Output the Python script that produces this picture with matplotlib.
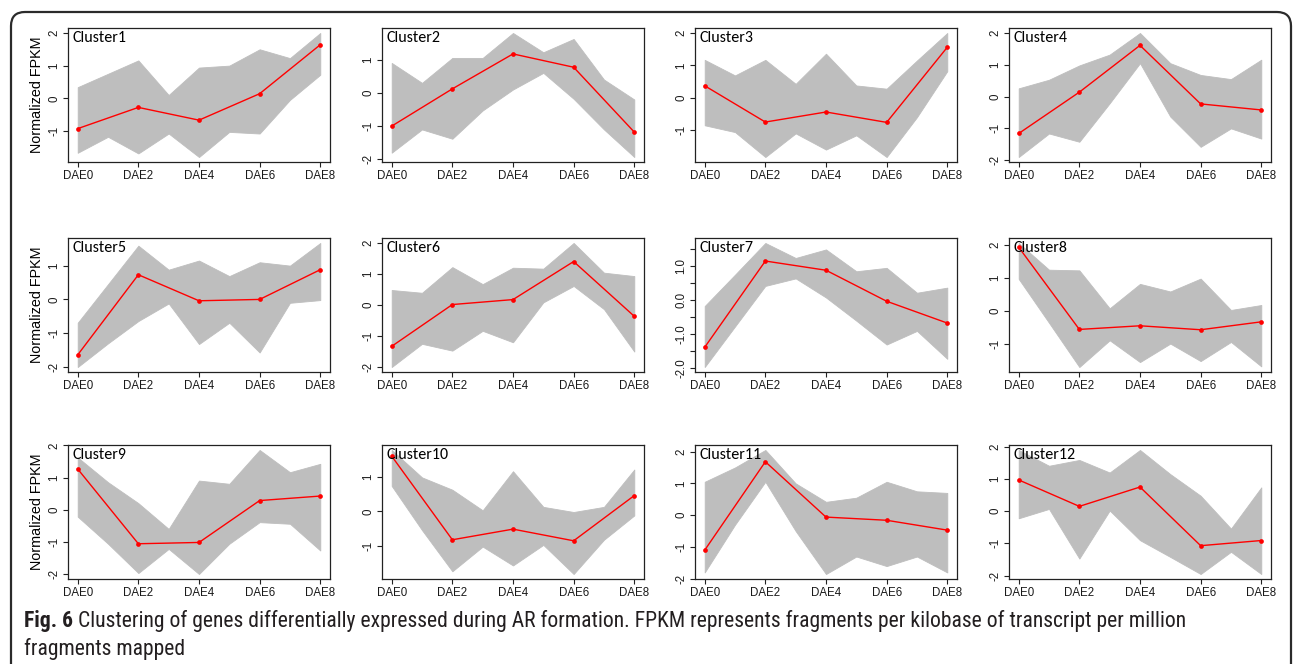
import matplotlib
matplotlib.use("Agg")
import matplotlib.pyplot as plt
from matplotlib import font_manager
from matplotlib.patches import FancyBboxPatch
from matplotlib.transforms import IdentityTransform
from matplotlib.ticker import MultipleLocator, FuncFormatter
import numpy as np

# ---------------- data ----------------
timepoints = ["DAE0", "DAE2", "DAE4", "DAE6", "DAE8"]
cluster_names = ["Cluster%d" % i for i in range(1, 13)]

# centroid (red) profiles
centroids = [
    [-0.93, -0.28, -0.67, 0.14, 1.64],
    [-1.00, 0.12, 1.17, 0.77, -1.18],
    [0.37, -0.75, -0.44, -0.76, 1.56],
    [-1.16, 0.14, 1.61, -0.23, -0.42],
    [-1.64, 0.73, -0.04, 0.00, 0.88],
    [-1.33, 0.02, 0.18, 1.41, -0.36],
    [-1.38, 1.15, 0.88, -0.03, -0.67],
    [1.92, -0.57, -0.46, -0.58, -0.34],
    [1.27, -1.05, -1.01, 0.29, 0.43],
    [1.61, -0.83, -0.52, -0.86, 0.46],
    [-1.10, 1.68, -0.06, -0.16, -0.47],
    [0.97, 0.15, 0.75, -1.07, -0.91],
]

# upper / lower edge of the gray gene band, read at DAE0, mid, DAE2, mid, ... DAE8
band_hi = [
    [0.34, 0.75, 1.16, 0.10, 0.94, 1.00, 1.50, 1.23, 2.00],
    [0.90, 0.30, 1.05, 1.05, 1.80, 1.22, 1.62, 0.40, -0.20],
    [1.17, 0.69, 1.17, 0.43, 1.36, 0.38, 0.28, 1.15, 2.00],
    [0.26, 0.53, 0.98, 1.32, 2.00, 1.05, 0.68, 0.55, 1.16],
    [-0.69, 0.45, 1.59, 0.88, 1.15, 0.69, 1.10, 1.00, 1.67],
    [0.49, 0.40, 1.23, 0.68, 1.21, 1.18, 2.01, 1.05, 0.94],
    [-0.17, 0.75, 1.68, 1.24, 1.49, 0.85, 0.95, 0.22, 0.37],
    [2.05, 1.24, 1.22, 0.07, 0.81, 0.58, 0.97, 0.02, 0.17],
    [1.63, 0.86, 0.21, -0.59, 0.91, 0.81, 1.86, 1.17, 1.43],
    [1.79, 0.99, 0.63, 0.03, 1.17, 0.13, -0.02, 0.13, 1.22],
    [1.05, 1.50, 2.05, 1.00, 0.42, 0.55, 1.05, 0.75, 0.70],
    [1.90, 1.41, 1.59, 1.20, 1.90, 1.15, 0.48, -0.54, 0.74],
]
band_lo = [
    [-1.67, -1.18, -1.69, -1.08, -1.80, -1.03, -1.08, -0.05, 0.72],
    [-1.80, -1.10, -1.38, -0.53, 0.10, 0.60, -0.18, -1.10, -1.93],
    [-0.85, -1.06, -1.83, -1.10, -1.60, -1.16, -1.83, -0.60, 0.82],
    [-1.90, -1.16, -1.42, -0.21, 1.05, -0.63, -1.58, -1.00, -1.32],
    [-2.00, -1.30, -0.64, -0.12, -1.32, -0.69, -1.57, -0.10, -0.02],
    [-2.00, -1.25, -1.47, -0.83, -1.20, 0.09, 0.62, -0.13, -1.50],
    [-1.96, -0.77, 0.42, 0.64, 0.08, -0.60, -1.30, -0.90, -1.72],
    [0.96, -0.37, -1.71, -0.90, -1.56, -1.00, -1.53, -0.95, -1.69],
    [-0.21, -1.05, -1.96, -1.21, -1.99, -1.05, -0.38, -0.43, -1.26],
    [0.74, -0.55, -1.75, -1.03, -1.58, -0.98, -1.83, -0.83, -0.12],
    [-1.80, -0.30, 1.05, -0.50, -1.85, -1.30, -1.60, -1.30, -1.80],
    [-0.22, 0.07, -1.47, 0.02, -0.90, -1.42, -1.95, -1.26, -1.95],
]

ylabel_text = "Normalized FPKM"
caption_bold = "Fig. 6"
caption_line1 = ("Clustering of genes differentially expressed during AR formation. "
                 "FPKM represents fragments per kilobase of transcript per million")
caption_line2 = "fragments mapped"

# ---------------- fonts ----------------
entries = font_manager.fontManager.ttflist


def has_regular(name):
    for f in entries:
        if f.name == name and f.weight in (400, "normal", "regular", "book", "Regular"):
            return True
    return False


def pick(cands):
    for c in cands:
        if has_regular(c):
            return c
    return "DejaVu Sans"


f_axis = pick(["Liberation Sans", "Arial"])
f_label = pick(["Carlito", "Open Sans", "Lato"])
f_caption = pick(["Liberation Sans Narrow", "DejaVu Sans Condensed", "Roboto Condensed",
                  "Open Sans", "Liberation Sans"])
caption_stretch = "normal"
if f_caption in ("Open Sans", "Liberation Sans"):
    caption_stretch = "condensed"

# ---------------- figure ----------------
W, H = 1295, 664
DPI = 100
fig = plt.figure(figsize=(W / DPI, H / DPI), dpi=DPI)
fig.patch.set_facecolor("white")

col_left = [68, 382, 695, 1009]
row_top = [28, 238, 445]
ax_w, ax_h = 262, 134

GRAY = "#BEBEBE"
xs_band = np.arange(9) / 2.0
xs = np.arange(5)
TICK_FS = 8.3

for i in range(12):
    r, c = divmod(i, 4)
    left = col_left[c] / W
    bottom = 1 - (row_top[r] + ax_h) / H
    ax = fig.add_axes([left, bottom, ax_w / W, ax_h / H])
    ax.fill_between(xs_band, band_lo[i], band_hi[i], color=GRAY, lw=0.6,
                    edgecolor=GRAY)
    ax.plot(xs, centroids[i], color="red", lw=1.0, marker="o", ms=3.4,
            markeredgewidth=0, zorder=5)
    ax.margins(x=0.04, y=0.04)
    ax.set_xticks(xs)
    ax.set_xticklabels(timepoints, fontsize=TICK_FS, family=f_axis, color="#1a1a1a")
    if i == 6:
        ax.yaxis.set_major_locator(MultipleLocator(0.5))
        ax.yaxis.set_major_formatter(FuncFormatter(
            lambda v, p: ("%.1f" % v) if abs(v - round(v)) < 1e-6 else ""))
    else:
        ax.yaxis.set_major_locator(MultipleLocator(1))
        ax.yaxis.set_major_formatter(FuncFormatter(lambda v, p: "%d" % round(v)))
    for lab in ax.get_yticklabels():
        lab.set_rotation(90)
        lab.set_va("center")
        lab.set_fontsize(TICK_FS)
        lab.set_family(f_axis)
        lab.set_color("#1a1a1a")
    ax.tick_params(axis="both", direction="out", length=3.5, width=0.8,
                   color="#222222", pad=2)
    for s in ax.spines.values():
        s.set_linewidth(0.9)
        s.set_color("#222222")
    ax.text(0.018, 0.975, cluster_names[i], transform=ax.transAxes, ha="left",
            va="top", fontsize=11.5, family=f_label, color="black", zorder=6)
    if c == 0:
        ax.set_ylabel(ylabel_text, fontsize=10.4, family=f_axis, labelpad=3)

# ---------------- caption ----------------
renderer = fig.canvas.get_renderer()
cap_x = 24 / W
y1 = 1 - 621 / H
y2 = 1 - 649 / H
fs = 12.6
t_b = fig.text(cap_x, y1, caption_bold, fontsize=fs, fontweight="bold",
               family=f_caption, fontstretch=caption_stretch,
               va="center", ha="left", color="#231f20")
bb = t_b.get_window_extent(renderer)
t_1 = fig.text((bb.x1 + 5) / W, y1, caption_line1, fontsize=fs, family=f_caption,
               fontweight="normal", fontstretch=caption_stretch,
               va="center", ha="left", color="#231f20")
target = 1192
bb1 = t_1.get_window_extent(renderer)
scale = (target - 24) / (bb1.x1 - 24)
fs2 = fs * scale
t_b.set_fontsize(fs2)
bb = t_b.get_window_extent(renderer)
t_1.set_fontsize(fs2)
t_1.set_x((bb.x1 + 5) / W)
fig.text(cap_x, y2, caption_line2, fontsize=fs2, family=f_caption,
         fontweight="normal", fontstretch=caption_stretch, va="center",
         ha="left", color="#231f20")

# ---------------- rounded frame ----------------
frame = FancyBboxPatch((11, -30), 1280, 652 + 30,
                       boxstyle="round,pad=0,rounding_size=14",
                       transform=IdentityTransform(), fill=False,
                       edgecolor="#2b2b2b", lw=1.6)
fig.patches.append(frame)

fig.savefig("out.png", dpi=DPI)
